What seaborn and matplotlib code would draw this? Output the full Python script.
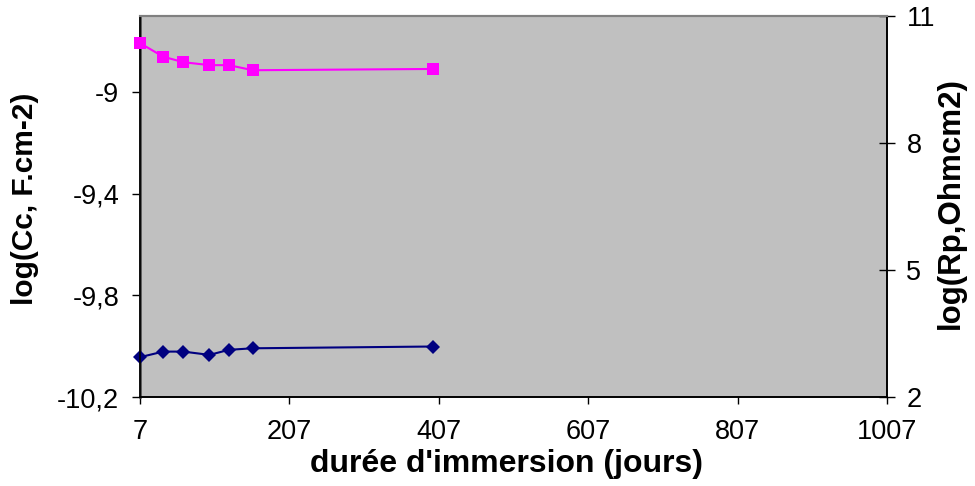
import matplotlib
matplotlib.use("Agg")
import matplotlib.pyplot as plt
import seaborn as sns
import pandas as pd

# Immersion time (days) and measured coating parameters
days = [7, 38, 65, 100, 126, 158, 399]
log_cc = [-10.043, -10.021, -10.021, -10.034, -10.014, -10.008, -10.001]
log_rp = [10.36, 10.04, 9.91, 9.84, 9.84, 9.72, 9.75]

x_ticks = [7, 207, 407, 607, 807, 1007]
left_ticks = [-9.0, -9.4, -9.8, -10.2]
left_labels = ["-9", "-9,4", "-9,8", "-10,2"]
right_ticks = [2, 5, 8, 11]

df = pd.DataFrame({"days": days, "log_cc": log_cc, "log_rp": log_rp})

sns.set_style("white")
plt.rcParams["font.family"] = ["Liberation Sans", "DejaVu Sans"]
plt.rcParams["text.color"] = "black"
plt.rcParams["axes.labelcolor"] = "black"
plt.rcParams["xtick.color"] = "black"
plt.rcParams["ytick.color"] = "black"

fig = plt.figure(figsize=(9.75, 4.86), dpi=100)
ax = fig.add_axes([0.1436, 0.183, 0.7661, 0.784])
ax.set_facecolor("#C0C0C0")

sns.lineplot(data=df, x="days", y="log_cc", ax=ax, color="#000080",
             marker="D", markersize=7, markeredgewidth=0, linewidth=1.5)

ax2 = ax.twinx()
sns.lineplot(data=df, x="days", y="log_rp", ax=ax2, color="#FF00FF",
             marker="s", markersize=8, markeredgewidth=0, linewidth=1.5)

for a in (ax, ax2):
    for ln in a.get_lines():
        ln.set_clip_on(False)
        ln.set_zorder(5)

ax.set_xlim(7, 1007)
ax.set_ylim(-10.2, -8.7)
ax2.set_ylim(2, 11)

ax.set_xticks(x_ticks)
ax.set_xticklabels([str(t) for t in x_ticks])
ax.set_yticks(left_ticks)
ax.set_yticklabels(left_labels)
ax2.set_yticks(right_ticks)
ax2.set_yticklabels([str(t) for t in right_ticks])

ax.tick_params(axis="x", direction="out", length=5, width=1, pad=11,
               labelsize=19.5, colors="black", bottom=True)
ax.tick_params(axis="y", direction="out", length=6, width=1, pad=9,
               labelsize=19.5, colors="black", left=True)
ax2.tick_params(axis="y", direction="inout", length=12, width=1, pad=8,
                labelsize=19.5, colors="black", right=True)

for a in (ax, ax2):
    for side in ("left", "bottom", "right"):
        a.spines[side].set_color("black")
        a.spines[side].set_linewidth(1.2)
    a.spines["top"].set_color("#808080")
    a.spines["top"].set_linewidth(1.5)
ax.spines["left"].set_color("#404040")
ax.spines["left"].set_linewidth(1.8)

ax.set_xlabel("durée d'immersion (jours)", fontsize=23, fontweight="bold",
              color="black")
ax.set_ylabel("log(Cc, F.cm-2)", fontsize=21.5, fontweight="bold",
              color="black")
ax2.set_ylabel("log(Rp,Ohmcm2)", fontsize=22.5, fontweight="bold",
               color="black")
ax.xaxis.set_label_coords(0.49, -0.135)
ax.yaxis.set_label_coords(-0.135, 0.52)
ax2.yaxis.set_label_coords(1.066, 0.51)
ax2.yaxis.label.set_rotation(90)

ax.grid(False)
ax2.grid(False)

fig.savefig("out.png", dpi=100)
